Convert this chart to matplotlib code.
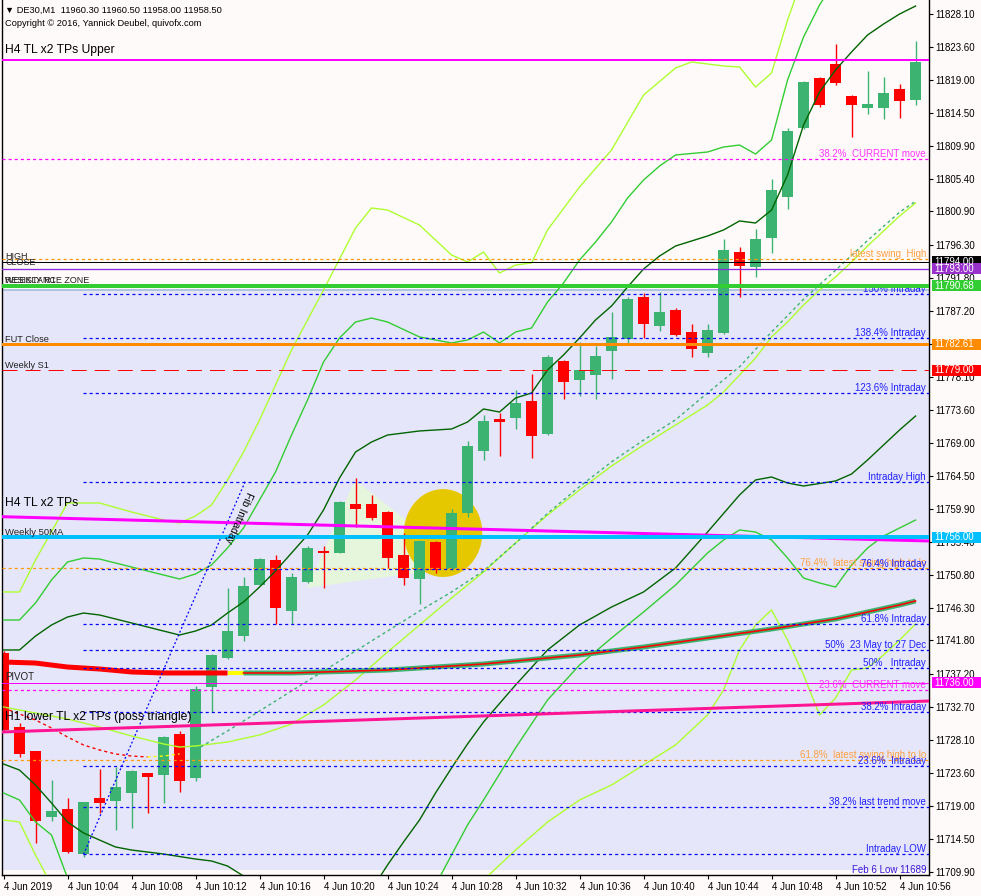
import matplotlib
matplotlib.use('Agg')
import matplotlib.pyplot as plt
import matplotlib.transforms as mtransforms
from matplotlib.patches import Polygon, Ellipse, Rectangle

plt.rcParams['font.family'] = ['Liberation Sans', 'DejaVu Sans']
plt.rcParams['lines.scale_dashes'] = False

# ---------------- DATA ----------------
minutes = list(range(58))  # 10:00 .. 10:57
opens = [11740.07, 11729.92, 11726.57, 11717.52, 11718.58, 11712.34, 11720.10, 11719.73, 11720.83, 11723.54,
         11723.27, 11728.91, 11722.89, 11735.43, 11739.43, 11742.45, 11749.48, 11752.88, 11745.90, 11749.89,
         11754.12, 11753.89, 11760.64, 11760.64, 11759.45, 11753.57, 11750.31, 11755.32, 11751.69, 11759.36,
         11767.94, 11772.35, 11772.49, 11774.79, 11770.28, 11780.30, 11777.68, 11778.41, 11781.72, 11783.29,
         11789.12, 11785.08, 11787.32, 11784.29, 11781.44, 11784.20, 11795.31, 11793.25, 11797.28, 11802.93,
         11812.44, 11819.28, 11821.21, 11816.81, 11815.19, 11815.19, 11817.77, 11816.30]
highs = [11740.30, 11730.43, 11726.60, 11722.58, 11720.10, 11719.60, 11724.09, 11724.41, 11723.90, 11723.60,
         11728.60, 11729.33, 11735.53, 11739.90, 11748.99, 11750.58, 11753.20, 11753.57, 11751.09, 11754.81,
         11754.81, 11761.00, 11764.14, 11761.84, 11759.60, 11756.56, 11755.70, 11755.50, 11759.87, 11769.28,
         11772.86, 11773.14, 11776.30, 11778.51, 11781.08, 11780.50, 11782.96, 11782.37, 11787.05, 11789.16,
         11789.71, 11789.76, 11787.56, 11785.40, 11785.40, 11797.10, 11796.00, 11798.48, 11805.37, 11812.44,
         11818.90, 11819.46, 11823.97, 11816.90, 11820.25, 11819.42, 11818.46, 11824.38]
lows = [11729.20, 11725.75, 11713.94, 11716.97, 11712.52, 11712.01, 11718.03, 11715.69, 11716.01, 11718.03,
        11719.45, 11720.97, 11722.48, 11731.90, 11739.30, 11741.77, 11749.40, 11744.07, 11744.03, 11749.70,
        11749.03, 11753.80, 11757.47, 11758.39, 11751.74, 11749.44, 11746.78, 11751.05, 11751.50, 11758.81,
        11766.66, 11767.21, 11770.93, 11766.98, 11770.10, 11775.02, 11775.52, 11775.02, 11777.78, 11782.82,
        11783.43, 11784.47, 11783.80, 11780.89, 11780.89, 11783.98, 11789.07, 11791.91, 11795.22, 11801.28,
        11812.30, 11815.33, 11818.32, 11811.20, 11814.37, 11813.68, 11813.82, 11815.57]
closes = [11729.46, 11726.16, 11716.97, 11718.31, 11712.70, 11719.55, 11719.45, 11721.65, 11723.82, 11722.95,
          11728.54, 11722.48, 11735.11, 11739.80, 11743.10, 11749.34, 11753.02, 11746.31, 11750.58, 11754.54,
          11753.85, 11760.92, 11759.91, 11758.71, 11753.20, 11750.45, 11755.50, 11751.51, 11759.40, 11768.59,
          11772.03, 11771.94, 11774.51, 11770.01, 11780.85, 11777.45, 11779.06, 11780.99, 11783.61, 11788.84,
          11785.44, 11787.05, 11783.92, 11781.99, 11784.57, 11795.59, 11793.43, 11797.11, 11803.86, 11811.98,
          11818.73, 11815.57, 11818.60, 11815.61, 11815.70, 11817.22, 11816.16, 11821.49]

xtick_pos = [0, 4, 8, 12, 16, 20, 24, 28, 32, 36, 40, 44, 48, 52, 56]
xtick_labels = ['4 Jun 2019', '4 Jun 10:04', '4 Jun 10:08', '4 Jun 10:12', '4 Jun 10:16', '4 Jun 10:20',
                '4 Jun 10:24', '4 Jun 10:28', '4 Jun 10:32', '4 Jun 10:36', '4 Jun 10:40', '4 Jun 10:44',
                '4 Jun 10:48', '4 Jun 10:52', '4 Jun 10:56']
ytick_vals = [11828.10, 11823.60, 11819.00, 11814.50, 11809.90, 11805.40, 11800.90, 11796.30, 11791.80,
              11787.20, 11782.70, 11778.10, 11773.60, 11769.00, 11764.50, 11759.90, 11755.40, 11750.80,
              11746.30, 11741.80, 11737.20, 11732.70, 11728.10, 11723.60, 11719.00, 11714.50, 11709.90]

# Bollinger-type bands (outer greenyellow, middle limegreen, inner darkgreen)
gy_up_m = [0, 1, 2, 4, 6, 8, 10, 11, 12, 13, 14, 15, 16, 18, 20, 22, 23, 24, 26, 28, 29, 30, 31, 32, 33, 34,
           36, 38, 40, 42, 43, 45, 46, 47, 48, 49, 50, 52]
gy_up_p = [11748.48, 11748.48, 11752.88, 11760.74, 11760.74, 11759.50, 11758.39, 11757.98, 11758.95, 11760.46,
           11763.91, 11767.76, 11772.17, 11781.81, 11790.08, 11798.62, 11801.38, 11801.10, 11799.03, 11794.90,
           11793.94, 11795.31, 11792.42, 11793.52, 11793.80, 11798.35, 11804.27, 11809.37, 11816.94, 11820.66,
           11821.49, 11820.94, 11820.80, 11818.04, 11819.97, 11827.27, 11833.47, 11840.00]
gy_lo_m = [0, 1, 2, 3, 4, 6, 10, 16, 22, 26, 28, 30, 32, 34, 36, 38, 40, 42, 44, 45, 46, 47, 48, 49, 50, 51,
           52, 53, 54, 55, 56, 57]
gy_lo_p = [11717.07, 11716.79, 11712.25, 11708.11, 11704.67, 11700.00, 11697.00, 11696.00, 11699.00, 11702.50,
           11705.50, 11708.80, 11712.93, 11716.79, 11719.82, 11721.89, 11724.64, 11727.40, 11731.53, 11734.98,
           11740.49, 11743.93, 11746.00, 11741.86, 11737.04, 11731.53, 11733.87, 11737.73, 11738.01, 11739.80,
           11741.86, 11744.07]
lg_up_m = [0, 1, 2, 3, 4, 5, 6, 8, 10, 11, 12, 13, 14, 15, 16, 17, 18, 19, 20, 21, 22, 23, 24, 26, 28, 29, 30,
           31, 32, 33, 34, 35, 36, 37, 38, 39, 40, 41, 42, 44, 45, 46, 47, 48, 49, 50, 51, 52]
lg_up_p = [11744.62, 11744.62, 11746.96, 11750.13, 11752.61, 11753.16, 11753.02, 11751.92, 11750.82, 11750.27,
           11750.96, 11752.20, 11754.54, 11757.29, 11761.15, 11765.01, 11770.10, 11774.93, 11780.16, 11783.47,
           11785.67, 11786.22, 11785.67, 11783.61, 11782.78, 11783.19, 11784.29, 11782.78, 11784.29, 11784.84,
           11788.43, 11791.04, 11794.21, 11796.69, 11799.45, 11802.75, 11805.23, 11807.16, 11808.68, 11809.09,
           11809.78, 11810.05, 11808.81, 11810.74, 11819.01, 11824.93, 11829.34, 11832.79]
lg_lo_m = [0, 1, 2, 3, 4, 5, 6, 10, 16, 22, 25, 27, 28, 29, 30, 32, 34, 36, 38, 40, 42, 44, 45, 46, 47, 48, 49,
           50, 51, 52, 53, 54, 55, 56, 57]
lg_lo_p = [11720.79, 11719.82, 11716.79, 11715.00, 11709.08, 11706.05, 11704.00, 11700.00, 11698.00, 11700.00,
           11704.00, 11708.11, 11712.25, 11716.38, 11719.82, 11726.99, 11733.60, 11738.42, 11742.14, 11745.72,
           11749.44, 11753.85, 11755.64, 11757.02, 11756.74, 11755.64, 11753.16, 11750.40, 11749.72, 11749.16,
           11752.20, 11754.54, 11756.19, 11757.29, 11758.39]
dg_up_m = [0, 1, 2, 3, 4, 5, 6, 8, 10, 11, 12, 13, 14, 15, 16, 17, 18, 19, 20, 21, 22, 23, 24, 26, 28, 29, 30,
           31, 32, 33, 34, 35, 36, 37, 38, 39, 40, 41, 42, 44, 45, 46, 47, 48, 49, 50, 51, 52, 53, 54, 55, 56, 57]
dg_up_p = [11740.49, 11740.49, 11742.41, 11743.93, 11745.03, 11745.58, 11745.31, 11744.21, 11743.10, 11742.55,
           11743.10, 11743.93, 11745.58, 11747.10, 11749.16, 11751.37, 11753.85, 11756.33, 11759.77, 11764.18,
           11767.76, 11769.14, 11770.10, 11770.66, 11770.93, 11771.89, 11773.69, 11773.27, 11775.20, 11775.89,
           11779.06, 11781.13, 11783.47, 11785.95, 11787.88, 11790.49, 11792.97, 11794.76, 11796.14, 11797.52,
           11798.35, 11799.59, 11799.31, 11801.10, 11805.92, 11812.81, 11817.36, 11820.39, 11822.87, 11825.21,
           11826.72, 11828.10, 11829.20]
dg_lo_m = [0, 1, 2, 3, 4, 5, 6, 7, 8, 10, 12, 13, 14, 15, 16, 18, 20, 22, 23, 24, 25, 26, 27, 28, 29, 30, 32,
           34, 36, 38, 40, 42, 44, 46, 47, 48, 49, 50, 52, 53, 54, 55, 56, 57]
dg_lo_p = [11724.78, 11723.95, 11721.89, 11719.41, 11716.79, 11715.28, 11714.31, 11713.35, 11712.93, 11712.38,
           11711.69, 11711.42, 11710.73, 11709.35, 11707.42, 11705.36, 11703.98, 11704.67, 11707.42, 11710.87,
           11714.04, 11717.07, 11720.79, 11724.23, 11727.54, 11730.57, 11735.66, 11740.49, 11743.93, 11746.41,
           11748.48, 11751.78, 11756.74, 11761.84, 11763.91, 11764.32, 11763.49, 11763.08, 11763.77, 11764.73,
           11766.66, 11768.73, 11770.79, 11772.72]
# greenyellow moving average and dashed green MA
ma_gy_m = [0, 2, 4, 6, 8, 10, 11, 12, 14, 16, 18, 20, 22, 24, 26, 28, 30, 32, 34, 36, 38, 40, 42, 44, 45, 46,
           47, 48, 49, 50, 51, 52, 53, 54, 55, 56, 57]
ma_gy_p = [11732.63, 11731.81, 11730.98, 11729.88, 11728.64, 11727.54, 11727.12, 11727.26, 11727.81, 11728.78,
           11730.29, 11732.91, 11736.35, 11740.21, 11743.93, 11747.65, 11751.23, 11755.23, 11759.08, 11762.53,
           11765.83, 11768.73, 11771.48, 11774.24, 11776.03, 11778.37, 11780.71, 11783.61, 11785.67, 11788.01,
           11790.08, 11791.87, 11793.94, 11796.14, 11798.21, 11800.27, 11802.06]
ma_dash_m = [12, 14, 16, 18, 20, 22, 24, 26, 28, 30, 32, 34, 36, 38, 40, 42, 44, 46, 48, 50, 52, 54, 56, 57]
ma_dash_p = [11726.71, 11729.33, 11732.08, 11734.84, 11737.59, 11740.35, 11743.10, 11745.86, 11748.48, 11751.37,
             11755.20, 11759.30, 11763.00, 11766.40, 11769.40, 11772.20, 11775.90, 11779.50, 11784.30, 11788.80,
             11792.80, 11796.90, 11800.80, 11802.30]
# thick long MA (red -> yellow -> green)
ma_long_m = [0, 2, 4, 6, 8, 10, 14, 15, 18, 20, 22, 24, 28, 30, 32, 36, 40, 44, 48, 50, 52, 54, 56, 57]
ma_long_p = [11738.83, 11738.69, 11738.14, 11737.87, 11737.46, 11737.32, 11737.32, 11737.32, 11737.32, 11737.46,
             11737.59, 11737.73, 11738.28, 11738.56, 11738.97, 11739.80, 11740.90, 11742.14, 11743.38, 11744.07,
             11744.76, 11745.72, 11746.69, 11747.24]
red_dash_m = [0, 1, 2, 3, 4, 5, 6, 7, 8, 9]
red_dash_p = [11732.50, 11731.67, 11730.84, 11729.74, 11728.50, 11727.40, 11726.71, 11726.16, 11725.88, 11725.75]
yel_dash_m = [9, 10, 11]
yel_dash_p = [11725.75, 11725.88, 11726.16]

# horizontal levels
upper_tl = 11821.76
cur_382 = 11808.08
swing_high = 11794.31
close_lvl = 11794.00
purple_lvl = 11793.00
res_zone = 11790.68
zone_top, zone_bottom = 11790.08, 11710.18
fut_close = 11782.61
weekly_s1 = 11779.00
weekly_50ma = 11756.00
swing_764 = 11751.74
swing_618 = 11725.29
pivot = 11736.00
cur_236 = 11734.93
blue_levels = [11789.53, 11783.43, 11775.85, 11763.67, 11751.60, 11744.03, 11740.49, 11738.01, 11731.90,
               11724.46, 11718.82, 11712.34]
blue_labels = ['150% Intraday', '138.4% Intraday', '123.6% Intraday', 'Intraday High', '76.4% Intraday',
               '61.8% Intraday', '50%  23 May to 27 Dec', '50%   Intraday', '38.2% Intraday',
               '23.6%  Intraday', '38.2% last trend move', 'Intraday LOW']
h4_tl_m, h4_tl_p = [-0.1, 57.9], [11758.85, 11755.50]
h1_tl_m, h1_tl_p = [-0.1, 57.9], [11729.19, 11733.46]
fib_m, fib_p = [5.0, 15.1], [11712.34, 11763.67]
tri_m, tri_p = [18.97, 21.97, 28.8], [11749.03, 11763.91, 11752.06]
ell_center = (27.47, 11756.60)
ell_w, ell_h = 4.9, 12.1
tag_vals = [11794.00, 11793.00, 11790.68, 11782.61, 11779.00, 11756.00, 11736.00]
tag_cols = ['#000000', '#9932CC', '#32CD32', '#FF8C00', '#FF0000', '#00BFFF', '#FF00FF']

# ---------------- DRAW ----------------
PX = 0.72  # points per pixel
BG = '#FFFAFA'
fig = plt.figure(figsize=(9.81, 8.96), dpi=100, facecolor=BG)
ax = fig.add_axes([2 / 981, 21 / 896, 927 / 981, 875 / 896])
ax.set_facecolor(BG)
ax.set_xlim(-0.094, 57.84)
ax.set_ylim(11709.49, 11830.03)
trans = mtransforms.blended_transform_factory(ax.transAxes, ax.transData)
price_per_px = (11830.03 - 11709.49) / 875

# zone
ax.axhspan(zone_bottom, zone_top, color='#E6E6FA', lw=0, zorder=0.5)
ax.axhline(zone_top, color='#B0C4DE', lw=2 * PX, zorder=0.6)

# triangle + ellipse background objects
ax.add_patch(Polygon(list(zip(tri_m, tri_p)), closed=True, fc='#E6F6DC', ec='none', zorder=1))
ax.add_patch(Ellipse(ell_center, ell_w, ell_h, fc='#E6C800', ec='none', zorder=1.2))

# candles
bull, bear = '#3CB371', '#FF0000'
cols = [bull if c >= o else bear for o, c in zip(opens, closes)]
bottoms = [min(o, c) for o, c in zip(opens, closes)]
heights = [max(abs(c - o), 0.14) for o, c in zip(opens, closes)]
ax.vlines(minutes, lows, highs, colors=cols, lw=1.0, zorder=2)
ax.bar(minutes, heights, bottom=bottoms, width=0.66, color=cols, lw=0, zorder=2.1)

# indicators
lw1 = 1.0
ax.plot(gy_up_m, gy_up_p, color='#ADFF2F', lw=lw1, zorder=3)
ax.plot(gy_lo_m, gy_lo_p, color='#ADFF2F', lw=lw1, zorder=3)
ax.plot(lg_up_m, lg_up_p, color='#32CD32', lw=lw1, zorder=3)
ax.plot(lg_lo_m, lg_lo_p, color='#32CD32', lw=lw1, zorder=3)
ax.plot(dg_up_m, dg_up_p, color='#006400', lw=lw1, zorder=3)
ax.plot(dg_lo_m, dg_lo_p, color='#006400', lw=lw1, zorder=3)
ax.plot(ma_gy_m, ma_gy_p, color='#ADFF2F', lw=lw1, zorder=3)
ax.plot(ma_dash_m, ma_dash_p, color='#3CB371', lw=lw1, ls=(0, (2.2, 2.2)), zorder=3)
ax.plot(red_dash_m, red_dash_p, color='#FF0000', lw=lw1, ls=(0, (2.2, 2.2)), zorder=3)
ax.plot(yel_dash_m, yel_dash_p, color='#FFFF00', lw=lw1, ls=(0, (2.2, 2.2)), zorder=3)

i_red = ma_long_m.index(14)
i_yel = ma_long_m.index(15)
ax.plot(ma_long_m[:i_red + 1], ma_long_p[:i_red + 1], color='#FF0000', lw=5 * PX, zorder=3.2,
        solid_capstyle='butt')
ax.plot(ma_long_m[i_red:i_yel + 1], ma_long_p[i_red:i_yel + 1], color='#FFFF00', lw=4 * PX, zorder=3.2,
        solid_capstyle='butt')
ax.plot(ma_long_m[i_yel:], ma_long_p[i_yel:], color='#3CB371', lw=5 * PX, zorder=3.2, solid_capstyle='butt')
ax.plot(ma_long_m[i_yel:], ma_long_p[i_yel:], color='#FF0000', lw=1.6 * PX, zorder=3.3)

# horizontal lines
dash = (0, (2.2, 2.2))
ax.axhline(upper_tl, color='#FF00FF', lw=2 * PX, zorder=4)
ax.axhline(cur_382, color='#FF00FF', lw=lw1 * 0.9, ls=dash, zorder=4)
ax.axhline(swing_high, color='#FF9900', lw=lw1 * 0.9, ls=dash, zorder=4)
ax.axhline(close_lvl, color='#000000', lw=1 * PX, zorder=4)
ax.axhline(purple_lvl, color='#8A2BE2', lw=1.3 * PX, zorder=4)
for lv in blue_levels:
    ax.hlines(lv, 4.97, 57.84, color='#0000FF', lw=lw1 * 0.9, linestyles=[dash], zorder=4)
ax.axhline(res_zone, color='#32CD32', lw=4 * PX, zorder=4.5)
ax.axhline(fut_close, color='#FF8C00', lw=3 * PX, zorder=4)
ax.axhline(weekly_s1, color='#FF0000', lw=1 * PX, ls=(0, (10.8, 5.8)), zorder=4)
ax.axhline(weekly_50ma, color='#00BFFF', lw=4 * PX, zorder=4.2)
ax.axhline(swing_764, color='#FF9900', lw=lw1 * 0.9, ls=dash, zorder=4)
ax.axhline(swing_618, color='#FF9900', lw=lw1 * 0.9, ls=dash, zorder=4)
ax.axhline(pivot, color='#FF00FF', lw=1 * PX, zorder=4)
ax.axhline(cur_236, color='#FF00FF', lw=lw1 * 0.9, ls=dash, zorder=4)
ax.plot(h4_tl_m, h4_tl_p, color='#FF00FF', lw=3 * PX, zorder=4.1)
ax.plot(h1_tl_m, h1_tl_p, color='#FF1493', lw=3 * PX, zorder=4.1)
ax.plot(fib_m, fib_p, color='#0000FF', lw=0.9, ls=(0, (1.4, 1.6)), zorder=4)

# labels on the right (5 px above the line)
XR = (926 - 2) / 927
XL = (5 - 2) / 927
BLUE_T = '#2020FF'
ORANGE_T = '#FFA040'
MAG_T = '#FF33FF'


def lab(x, price, text, color, dy_px=5, ha='right', size=7, z=6):
    ax.annotate(text, xy=(x, price), xycoords=trans, xytext=(0, dy_px * PX), textcoords='offset points',
                ha=ha, va='center', color=color, fontsize=size, zorder=z, annotation_clip=False)


lab(XR, cur_382, '38.2%  CURRENT move', MAG_T)
lab(XR, swing_high, 'latest swing  High', ORANGE_T)
for lv, tx in zip(blue_levels, blue_labels):
    lab(XR, lv, tx, BLUE_T, z=4.4 if tx.startswith('150%') else 6)
lab(XR, swing_764, '76.4%  latest swing high to lo', ORANGE_T, z=5.9)
lab(XR, swing_618, '61.8%  latest swing high to lo', ORANGE_T, z=5.9)
lab(XR, cur_236, '23.6%  CURRENT move', MAG_T)
ax.text(XR, 11710.18, 'Feb 6 Low 11689', transform=trans, ha='right', va='center', color='#3A16D6',
        fontsize=7, zorder=6)

# labels on the left
DARK = '#202020'
lab(XL, upper_tl, 'H4 TL x2 TPs Upper', '#000000', dy_px=10, ha='left', size=8.7)
lab(XL, swing_high, 'HIGH', DARK, dy_px=3, ha='left', size=6.5)
lab(XL, close_lvl, 'CLOSE', DARK, dy_px=-1, ha='left', size=6.5)
lab(XL, res_zone, 'RESISTANCE ZONE', DARK, dy_px=5, ha='left', size=6.5)
lab(XL, res_zone, 'WEEKLY R1', DARK, dy_px=5, ha='left', size=6.5)
lab(XL, fut_close, 'FUT Close', DARK, dy_px=5, ha='left', size=6.6)
lab(XL, weekly_s1, 'Weekly S1', DARK, dy_px=5, ha='left', size=6.6)
lab(XL, h4_tl_p[0], 'H4 TL x2 TPs', '#000000', dy_px=14, ha='left', size=8.7)
lab(XL, weekly_50ma, 'Weekly 50MA', DARK, dy_px=5, ha='left', size=6.8)
lab(XL, pivot, 'PIVOT', DARK, dy_px=5.5, ha='left', size=7)
lab(XL, h1_tl_p[0], 'H1 lower TL x2 TPs (poss triangle)', '#000000', dy_px=15, ha='left', size=8.7)

# Fib text along the trendline (upside down)
ax.text(14.7, 11758.8, 'Fib Intraday', rotation=246.6, rotation_mode='anchor', ha='center', va='center',
        fontsize=7.5, color='#000000', zorder=6)

# header
fig.text(5 / 981, 1 - 10 / 896, '\u25bc DE30,M1  11960.30 11960.50 11958.00 11958.50', fontsize=6.7,
         ha='left', va='center', color='#000000', zorder=10)
fig.text(5 / 981, 1 - 23 / 896, 'Copyright \u00a9 2016, Yannick Deubel, quivofx.com', fontsize=6.7,
         ha='left', va='center', color='#000000', zorder=10)

# axes
for s in ['left', 'right', 'bottom']:
    ax.spines[s].set_color('#000000')
    ax.spines[s].set_linewidth(1.0)
ax.spines['top'].set_visible(False)
ax.set_xticks(xtick_pos)
ax.set_xticklabels(xtick_labels)
for t in ax.get_xticklabels():
    t.set_ha('left')
ax.tick_params(axis='x', length=4 * PX, width=0.8, pad=2, labelsize=7, colors='#000000')
ax.yaxis.tick_right()
ax.set_yticks(ytick_vals)
ax.set_yticklabels([f'{v:.2f}' for v in ytick_vals])
ax.tick_params(axis='y', length=4 * PX, width=0.8, pad=2, labelsize=7, colors='#000000')

# price tags on the right axis (boxes about 50 x 11 px)
tag_x0 = 2.5 / 927
tag_w = 52 / 927
tag_h = 11 * price_per_px
for v, c in zip(tag_vals, tag_cols):
    ax.add_patch(Rectangle((1 + tag_x0, v - tag_h / 2), tag_w, tag_h, transform=trans, fc=c, ec='none',
                           clip_on=False, zorder=9))
    ax.text(1 + tag_x0 + 3 / 927, v, f'{v:.2f}', transform=trans, ha='left', va='center', color='white',
            fontsize=7, clip_on=False, zorder=10)

fig.savefig('out.png', dpi=100, facecolor=BG)
